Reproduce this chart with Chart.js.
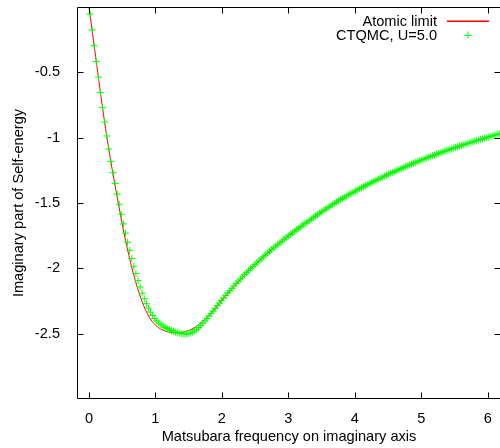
<!DOCTYPE html>
<html><head><meta charset="utf-8">
<script src="https://cdn.jsdelivr.net/npm/chart.js@4.4.0/dist/chart.umd.min.js"></script>
<style>
html,body{margin:0;padding:0;overflow:hidden;background:#fff;width:500px;height:448px}
#wrap{width:506px;height:448px;position:relative}
</style></head><body>
<div id="wrap"><canvas id="c" width="506" height="448"></canvas></div>
<script>
// Matsubara frequencies (x) of the CTQMC points
const freq = [
0.0157,0.0471,0.0785,0.1100,0.1414,0.1728,0.2042,0.2356,
0.2670,0.2985,0.3299,0.3613,0.3927,0.4241,0.4555,0.4869,
0.5184,0.5498,0.5812,0.6126,0.6440,0.6754,0.7069,0.7383,
0.7697,0.8011,0.8325,0.8639,0.8954,0.9268,0.9582,0.9896,
1.0210,1.0524,1.0838,1.1153,1.1467,1.1781,1.2095,1.2409,
1.2723,1.3038,1.3352,1.3666,1.3980,1.4294,1.4608,1.4923,
1.5237,1.5551,1.5865,1.6179,1.6493,1.6808,1.7122,1.7436,
1.7750,1.8064,1.8378,1.8692,1.9007,1.9321,1.9635,1.9949,
2.0263,2.0577,2.0892,2.1206,2.1520,2.1834,2.2148,2.2462,
2.2777,2.3091,2.3405,2.3719,2.4033,2.4347,2.4662,2.4976,
2.5290,2.5604,2.5918,2.6232,2.6546,2.6861,2.7175,2.7489,
2.7803,2.8117,2.8431,2.8746,2.9060,2.9374,2.9688,3.0002,
3.0316,3.0631,3.0945,3.1259,3.1573,3.1887,3.2201,3.2515,
3.2830,3.3144,3.3458,3.3772,3.4086,3.4400,3.4715,3.5029,
3.5343,3.5657,3.5971,3.6285,3.6600,3.6914,3.7228,3.7542,
3.7856,3.8170,3.8485,3.8799,3.9113,3.9427,3.9741,4.0055,
4.0370,4.0684,4.0998,4.1312,4.1626,4.1940,4.2254,4.2569,
4.2883,4.3197,4.3511,4.3825,4.4139,4.4454,4.4768,4.5082,
4.5396,4.5710,4.6024,4.6339,4.6653,4.6967,4.7281,4.7595,
4.7909,4.8223,4.8538,4.8852,4.9166,4.9480,4.9794,5.0108,
5.0423,5.0737,5.1051,5.1365,5.1679,5.1993,5.2308,5.2622,
5.2936,5.3250,5.3564,5.3878,5.4192,5.4507,5.4821,5.5135,
5.5449,5.5763,5.6077,5.6392,5.6706,5.7020,5.7334,5.7648,
5.7962,5.8277,5.8591,5.8905,5.9219,5.9533,5.9847,6.0161,
6.0476,6.0790,6.1104,6.1418,6.1732];

// CTQMC, U=5.0 : Im Sigma at each frequency
const ctqmc = [
-0.055,-0.176,-0.296,-0.418,-0.537,-0.655,-0.770,-0.880,
-0.987,-1.087,-1.182,-1.268,-1.350,-1.432,-1.510,-1.586,
-1.660,-1.731,-1.800,-1.862,-1.924,-1.984,-2.040,-2.094,
-2.143,-2.190,-2.232,-2.271,-2.305,-2.335,-2.361,-2.384,
-2.402,-2.418,-2.431,-2.442,-2.452,-2.461,-2.469,-2.476,
-2.482,-2.488,-2.493,-2.497,-2.500,-2.502,-2.502,-2.500,
-2.496,-2.489,-2.479,-2.467,-2.453,-2.437,-2.420,-2.402,
-2.384,-2.365,-2.346,-2.326,-2.306,-2.286,-2.266,-2.246,
-2.227,-2.208,-2.189,-2.171,-2.153,-2.135,-2.117,-2.099,
-2.082,-2.065,-2.049,-2.033,-2.017,-2.001,-1.986,-1.971,
-1.957,-1.942,-1.927,-1.913,-1.898,-1.884,-1.870,-1.856,
-1.843,-1.830,-1.817,-1.804,-1.791,-1.778,-1.765,-1.752,
-1.740,-1.728,-1.716,-1.704,-1.692,-1.681,-1.669,-1.657,
-1.646,-1.635,-1.623,-1.612,-1.601,-1.589,-1.578,-1.567,
-1.556,-1.546,-1.535,-1.525,-1.514,-1.504,-1.493,-1.483,
-1.473,-1.464,-1.455,-1.446,-1.437,-1.427,-1.418,-1.409,
-1.401,-1.392,-1.384,-1.376,-1.367,-1.359,-1.350,-1.342,
-1.334,-1.326,-1.319,-1.311,-1.303,-1.295,-1.287,-1.279,
-1.272,-1.265,-1.258,-1.251,-1.244,-1.236,-1.229,-1.222,
-1.216,-1.209,-1.202,-1.196,-1.189,-1.182,-1.176,-1.169,
-1.163,-1.157,-1.151,-1.145,-1.138,-1.132,-1.126,-1.120,
-1.114,-1.109,-1.103,-1.097,-1.092,-1.086,-1.080,-1.075,
-1.070,-1.064,-1.059,-1.054,-1.048,-1.043,-1.038,-1.033,
-1.028,-1.023,-1.018,-1.013,-1.009,-1.004,-0.999,-0.994,
-0.989,-0.985,-0.980,-0.975,-0.971];

// Atomic limit curve
const atomicX = [0,0.05,0.1,0.15,0.2,0.25,0.3,0.35,0.4,0.45,
0.5,0.55,0.6,0.65,0.7,0.75,0.8,0.85,0.9,0.95,
1.0,1.05,1.1,1.15,1.2,1.25,1.3,1.35,1.4,1.45,
1.5,1.55,1.6,1.7,1.8,1.9,2.0,2.25,2.5,2.75,3.0,3.5,4.0,4.5,5.0,5.5,6.0,6.2];
const atomicY = [0,-0.187,-0.379,-0.568,-0.755,-0.930,-1.092,-1.245,-1.385,-1.525,
-1.660,-1.785,-1.900,-2.005,-2.098,-2.181,-2.255,-2.317,-2.367,-2.405,
-2.434,-2.455,-2.470,-2.481,-2.488,-2.492,-2.494,-2.494,-2.491,-2.485,
-2.476,-2.464,-2.449,-2.410,-2.364,-2.308,-2.243,-2.100,-1.971,-1.856,-1.752,-1.567,-1.410,-1.281,-1.171,-1.077,-0.996,-0.966];

const xTicks = [0,1,2,3,4,5,6];
const yTicks = [-0.5,-1,-1.5,-2,-2.5];
const seriesNames = ['Atomic limit','CTQMC, U=5.0'];
const xTitle = 'Matsubara frequency on imaginary axis';
const yTitle = 'Imaginary part of Self-energy';

const FONT = "'Liberation Sans', Arial, Helvetica, sans-serif";
const FS = 14.6;
const RED = 'rgb(255,0,0)', GREEN = 'rgb(0,255,0)';

const ctqmcPts = freq.map((x,i)=>({x:x,y:ctqmc[i]}));
const atomicPts = atomicX.map((x,i)=>({x:x,y:atomicY[i]}));

function noPad(s){ s.paddingTop=0; s.paddingBottom=0; s.paddingLeft=0; s.paddingRight=0; }

const framePlugin = {
  id:'frame',
  afterDraw(chart){
    const {ctx, chartArea:a, scales:{x,y}} = chart;
    ctx.save();
    ctx.strokeStyle = '#000';
    ctx.lineWidth = 1;
    const L = Math.round(a.left)+0.5, T = Math.round(a.top)+0.5, B = Math.round(a.bottom)-0.5, R = Math.round(a.right)-0.5;
    ctx.beginPath();
    ctx.moveTo(L,T); ctx.lineTo(R,T);
    ctx.moveTo(L,T); ctx.lineTo(L,B);
    ctx.moveTo(L,B); ctx.lineTo(R,B);
    ctx.moveTo(R,T); ctx.lineTo(R,B);
    const tl = 6;
    xTicks.forEach(v=>{
      const px = Math.round(x.getPixelForValue(v))+0.5;
      ctx.moveTo(px,B); ctx.lineTo(px,B-tl);
      ctx.moveTo(px,T); ctx.lineTo(px,T+tl);
    });
    yTicks.forEach(v=>{
      const py = Math.round(y.getPixelForValue(v))+0.5;
      ctx.moveTo(L,py); ctx.lineTo(L+tl,py);
      ctx.moveTo(R,py); ctx.lineTo(R-tl,py);
    });
    ctx.stroke();
    ctx.restore();

    // key (legend), gnuplot style: text right-aligned, sample on the right
    ctx.save();
    ctx.font = FS+'px '+FONT;
    ctx.fillStyle = '#000';
    ctx.textAlign = 'right';
    ctx.textBaseline = 'middle';
    const tx = 437, y1 = 21.5, y2 = 35.5;
    ctx.fillText(seriesNames[0], tx, y1);
    ctx.fillText(seriesNames[1], tx, y2);
    ctx.fillStyle = RED;
    ctx.fillRect(447, 20.5, 42, 1.5);
    ctx.fillStyle = GREEN;
    ctx.fillRect(464.5, 35, 7, 1);
    ctx.fillRect(467.5, 31.5, 1, 7);
    ctx.restore();
  }
};

new Chart(document.getElementById('c'), {
  type:'scatter',
  data:{datasets:[
    {label:seriesNames[1], data:ctqmcPts, showLine:false, pointStyle:'cross',
     pointRadius:3.5, pointBorderWidth:1, borderColor:GREEN, backgroundColor:GREEN, order:0},
    {label:seriesNames[0], data:atomicPts, showLine:true, pointRadius:0, borderColor:RED,
     borderWidth:1, cubicInterpolationMode:'monotone', fill:false, order:1}
  ]},
  options:{
    responsive:false, animation:false, devicePixelRatio:1,
    layout:{padding:{top:7,right:0,left:0,bottom:0}},
    plugins:{legend:{display:false}, tooltip:{enabled:false}},
    scales:{
      x:{type:'linear', min:-0.18, max:6.2,
        afterBuildTicks:s=>{ s.ticks = xTicks.map(v=>({value:v})); },
        afterFit:s=>{ s.height = 49; noPad(s); },
        grid:{display:false}, border:{display:false},
        ticks:{color:'#000', padding:3.5, font:{family:FONT,size:FS}, callback:v=>String(v)},
        title:{display:true, text:xTitle, color:'#000', font:{family:FONT,size:FS}, padding:{top:0,bottom:2.2}}
      },
      y:{type:'linear', min:-3, max:0,
        afterBuildTicks:s=>{ s.ticks = yTicks.map(v=>({value:v})); },
        afterFit:s=>{ s.width = 77; noPad(s); },
        grid:{display:false}, border:{display:false},
        ticks:{color:'#000', padding:9, font:{family:FONT,size:FS}, callback:v=>String(v)},
        title:{display:true, text:yTitle, color:'#000', font:{family:FONT,size:FS}, padding:{top:10,bottom:0}}
      }
    }
  },
  plugins:[framePlugin]
});
</script>
</body></html>
